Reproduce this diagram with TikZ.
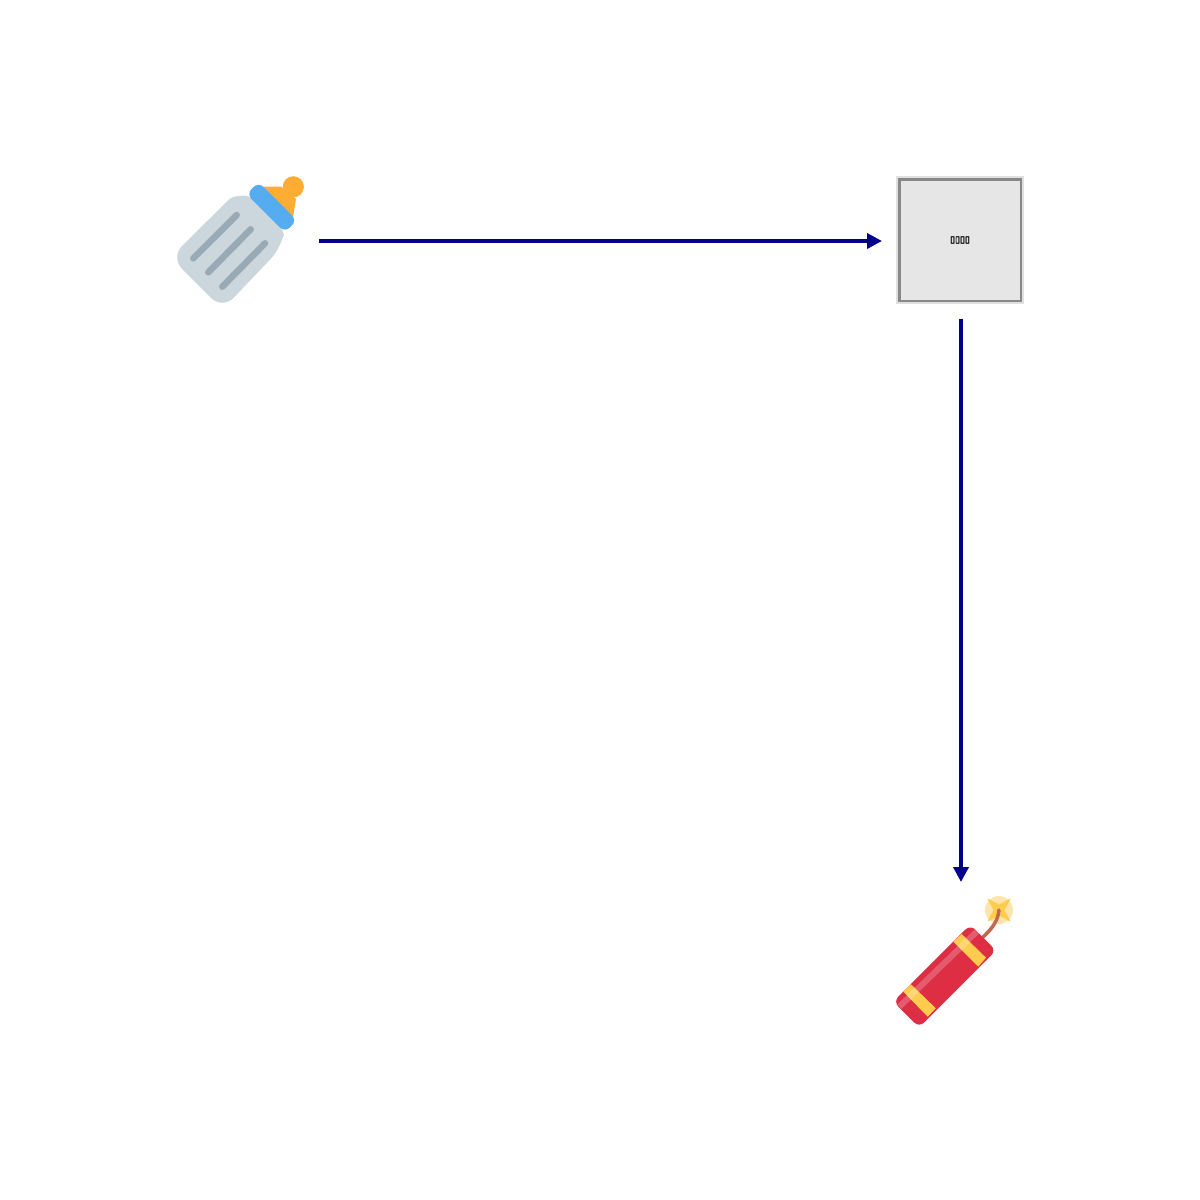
\documentclass[tikz,border=0pt]{standalone}
\usepackage{fontspec}
\newfontfamily\symfont[FakeBold=2.5]{DejaVu Sans}
\usetikzlibrary{positioning,arrows.meta}

\definecolor{glassgrey}{HTML}{CCD6DD}
\definecolor{markgrey}{HTML}{99AAB5}
\definecolor{capblue}{HTML}{55ACEE}
\definecolor{teatorange}{HTML}{FFAC33}
\definecolor{stickred}{HTML}{DD2E44}
\definecolor{bandyellow}{HTML}{FFCC4D}
\definecolor{fusebrown}{HTML}{C1694F}
\definecolor{sparkpale}{HTML}{FFE8B6}

\begin{document}
\begin{tikzpicture}[
    x=1pt, y=-1pt,
    node distance=594pt,
    cell/.style={rectangle, minimum size=126pt, inner sep=0pt, outer sep=0pt},
    midbox/.style={rectangle, minimum size=121.6pt, inner sep=0pt, outer sep=2.2pt, fill={rgb,255:red,230;green,230;blue,230}, draw={rgb,255:red,136;green,136;blue,136}, line width=2.6pt,
        preaction={draw={rgb,255:red,224;green,224;blue,224}, line width=6.4pt}},
    arrow/.style={-{Triangle[length=15pt,width=15pt]}, line width=3.6pt, draw={rgb,255:red,0;green,0;blue,139}, fill={rgb,255:red,0;green,0;blue,139}}
]
\useasboundingbox (0,0) rectangle (1200,1200);

% Blocks
\node[cell] (bottle) at (240,240) {};
\node[midbox, right=of bottle] (box) {\fontsize{9pt}{9pt}\symfont ▯▯▯▯};
\node[cell, below=of box] (cracker) {};

% Bottle
\fill[teatorange] (263.3,186.7) -- (281,186.5) -- (296,199) -- (293,217) -- cycle;
\fill[teatorange] (293.3,186.8) circle (10.6);
\fill[glassgrey, rounded corners=16] (170.6,257.4) -- (222.6,309.4) -- (281.7,247.3)
    [rounded corners=5] -- (284.3,231.7) -- (248.3,195) -- (231.7,196.7) [rounded corners=16] -- cycle;
\fill[capblue, rounded corners=7] (258.6,182) -- (297,220.4) -- (284.9,232.5) -- (246.5,194.1) -- cycle;
\foreach \xa/\ya/\xb/\yb in {193.3/258.3/236.7/215, 208.3/272.3/250.7/229.3, 222.3/286.7/265/243.3}
    \draw[markgrey, line width=6.5, line cap=round] (\xa,\ya) -- (\xb,\yb);

% Firecracker
\fill[sparkpale!90!bandyellow] (999,910) circle (14);
\fill[bandyellow] (987.3,898.3) -- (999,904.5) -- (1010.7,898.3) -- (1004.5,910) -- (1010.7,921.7)
    -- (999,915.5) -- (987.3,921.7) -- (993.5,910) -- cycle;
\draw[fusebrown, line width=3.5, line cap=round] (981,939) .. controls (992,929) and (998,921) .. (999,910);
\fill[stickred, rounded corners=7] (970.3,924.6) -- (996.2,950.5) -- (919.2,1027.5) -- (893.3,1001.6) -- cycle;
\fill[bandyellow] (953.3,941.7) -- (961.7,934) -- (986,957.7) -- (978.3,966.7) -- cycle;
\fill[bandyellow] (903.3,991.7) -- (910.7,984) -- (935.7,1008.3) -- (927.7,1016.7) -- cycle;
\draw[white, opacity=.22, line width=6] (899.3,1006.7) -- (977.7,930.7);

% Connectors
\draw[arrow, shorten <=16pt, shorten >=15pt] ([yshift=-1pt]bottle.east) -- ([yshift=-1pt]box.west);
\draw[arrow, shorten <=16pt, shorten >=15pt] ([xshift=1pt]box.south) -- ([xshift=1pt]cracker.north);

\end{tikzpicture}
\end{document}
